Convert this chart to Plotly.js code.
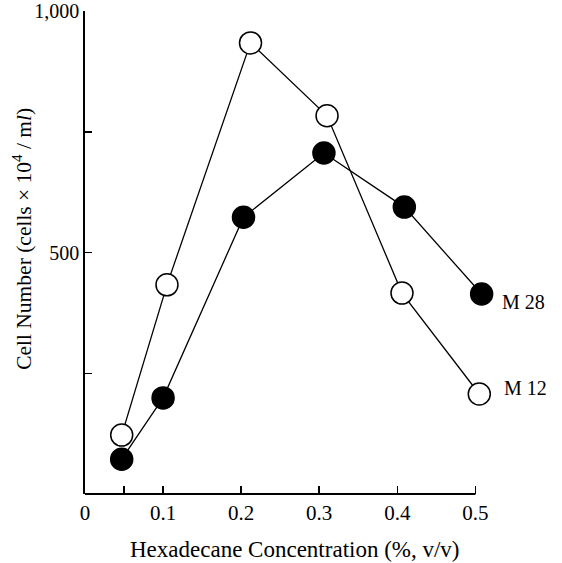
<!DOCTYPE html>
<html>
<head>
<meta charset="utf-8">
<script src="https://cdn.plot.ly/plotly-3.0.1.min.js"></script>
<style>html,body{margin:0;padding:0;background:#fff;}#chart{width:562px;height:563px;}</style>
</head>
<body>
<div id="chart"></div>
<script>
// Hexadecane concentration (% v/v)
const m12X = [0.047, 0.105, 0.212, 0.310, 0.406, 0.505];
const m12Y = [122, 433, 934, 783, 416, 207];
const m28X = [0.047, 0.100, 0.203, 0.306, 0.409, 0.508];
const m28Y = [72, 199, 573, 706, 594, 414];
const xTickVals = [0, 0.05, 0.1, 0.2, 0.3, 0.4, 0.5];
const xTickText = ["0", "", "0.1", "0.2", "0.3", "0.4", "0.5"];
const yTickVals = [250, 500, 750, 1000];
const yTickText = ["", "500", "", "1,000"];
const seriesNames = ["M 28", "M 12"];
const xTitle = "Hexadecane Concentration (%, v/v)";
const yTitle = "Cell Number (cells × 10<sup>4</sup> / m<i>l</i>)";

const serif = "Liberation Serif, Times New Roman, serif";

const traces = [
  {
    x: m12X, y: m12Y, type: "scatter", mode: "lines+markers", name: seriesNames[1],
    line: {color: "#000", width: 1.3},
    marker: {symbol: "circle", size: 22, color: "#fff", line: {color: "#000", width: 1.5}},
    cliponaxis: false
  },
  {
    x: m28X, y: m28Y, type: "scatter", mode: "lines+markers", name: seriesNames[0],
    line: {color: "#000", width: 1.3},
    marker: {symbol: "circle", size: 22, color: "#000", line: {color: "#000", width: 1.5}},
    cliponaxis: false
  }
];

const layout = {
  width: 562, height: 563,
  margin: {l: 85, r: 71, t: 11, b: 69},
  paper_bgcolor: "#fff", plot_bgcolor: "#fff",
  showlegend: false,
  font: {family: serif, color: "#000", size: 18},
  xaxis: {
    range: [0, 0.52], showgrid: false, zeroline: false,
    showline: false,
    ticks: "inside", ticklen: 8, tickwidth: 1.5, tickcolor: "#000",
    tickvals: xTickVals, ticktext: xTickText, ticklabelstandoff: 4,
    tickfont: {family: serif, size: 21, color: "#000"}
  },
  yaxis: {
    range: [0, 1000], showgrid: false, zeroline: false,
    showline: true, linecolor: "#000", linewidth: 1.8,
    ticks: "inside", ticklen: 7, tickwidth: 1.5, tickcolor: "#000",
    tickvals: yTickVals, ticktext: yTickText,
    tickfont: {family: serif, size: 20, color: "#000"}
  },
  shapes: [
    {type: "line", xref: "x", yref: "paper", x0: 0, x1: 0.5, y0: 0, y1: 0,
     line: {color: "#000", width: 1.8}}
  ],
  annotations: [
    {x: 0.517, y: -0.114, xref: "paper", yref: "paper", text: xTitle, showarrow: false,
     xanchor: "center", yanchor: "middle", font: {family: serif, size: 23, color: "#000"}},
    {x: -0.153, y: 0.528, xref: "paper", yref: "paper", text: yTitle, showarrow: false,
     textangle: -90, xanchor: "center", yanchor: "middle", font: {family: serif, size: 21.5, color: "#000"}},
    {x: m28X[5], y: m28Y[5], xref: "x", yref: "y", text: seriesNames[0], showarrow: false,
     xanchor: "left", yanchor: "middle", xshift: 18, yshift: -8, font: {family: serif, size: 20, color: "#000"}},
    {x: m12X[5], y: m12Y[5], xref: "x", yref: "y", text: seriesNames[1], showarrow: false,
     xanchor: "left", yanchor: "middle", xshift: 23, yshift: 6, font: {family: serif, size: 20, color: "#000"}}
  ]
};

Plotly.newPlot("chart", traces, layout, {displayModeBar: false, staticPlot: true});
</script>
</body>
</html>
